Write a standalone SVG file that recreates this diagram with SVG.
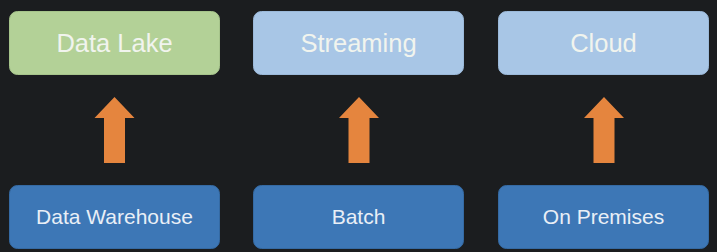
<svg xmlns="http://www.w3.org/2000/svg" width="717" height="252" viewBox="0 0 717 252">
  <defs>
    <style>
      .box { stroke-width: 1; }
      .lake { fill: #b3d197; stroke: #a6c48b; }
      .light { fill: #a8c6e6; stroke: #9bb9d9; }
      .dark { fill: #3d77b6; stroke: #356aa3; }
      .top-label { font-family: "Liberation Sans", Arial, sans-serif; font-size: 25.5px; fill: #f1f4ee; text-anchor: middle; }
      .bottom-label { font-family: "Liberation Sans", Arial, sans-serif; font-size: 21px; fill: #e9eff6; text-anchor: middle; }
      .arrow { fill: #e5853e; }
    </style>
    <!-- block arrow pointing up, centred on x=0, tip at y=0 -->
    <polygon id="up-arrow" points="0,0 20,21 10.5,21 10.5,66 -10.5,66 -10.5,21 -20,21"/>
  </defs>

  <rect width="717" height="252" fill="#1b1d1f"/>

  <g id="connectors">
    <use href="#up-arrow" class="arrow" x="114.5" y="97"/>
    <use href="#up-arrow" class="arrow" x="359" y="97"/>
    <use href="#up-arrow" class="arrow" x="604" y="97"/>
  </g>

  <g id="data-lake">
    <rect class="box lake" x="9.5" y="11.5" width="210" height="63" rx="8"/>
    <text class="top-label" x="114.5" y="52">Data Lake</text>
  </g>
  <g id="streaming">
    <rect class="box light" x="253.5" y="11.5" width="210" height="63" rx="8"/>
    <text class="top-label" x="358.5" y="52">Streaming</text>
  </g>
  <g id="cloud">
    <rect class="box light" x="498.5" y="11.5" width="210" height="63" rx="8"/>
    <text class="top-label" x="603.5" y="52">Cloud</text>
  </g>

  <g id="data-warehouse">
    <rect class="box dark" x="9.5" y="185.5" width="210" height="63" rx="8"/>
    <text class="bottom-label" x="114.5" y="224">Data Warehouse</text>
  </g>
  <g id="batch">
    <rect class="box dark" x="253.5" y="185.5" width="210" height="63" rx="8"/>
    <text class="bottom-label" x="358.5" y="224">Batch</text>
  </g>
  <g id="on-premises">
    <rect class="box dark" x="498.5" y="185.5" width="210" height="63" rx="8"/>
    <text class="bottom-label" x="603.5" y="224">On Premises</text>
  </g>
</svg>
